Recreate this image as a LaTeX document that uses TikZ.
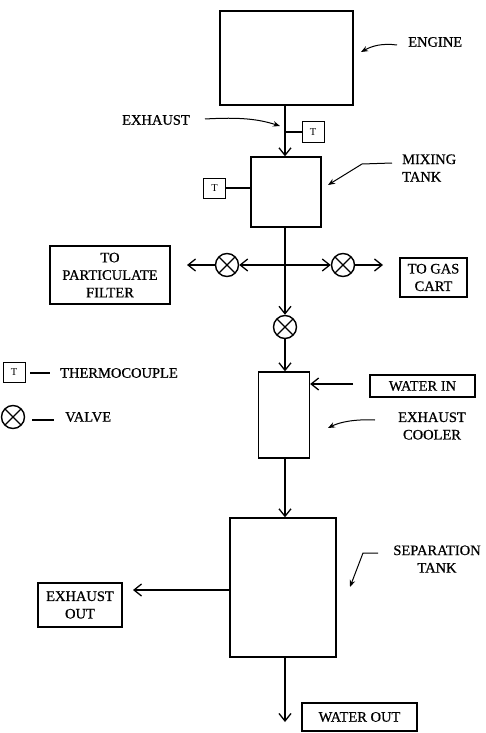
\documentclass[tikz,border=0pt]{standalone}
\usepackage{fontspec}
\setmainfont{Liberation Serif}[BoldFont=Liberation Serif, BoldFeatures={FakeBold=0.7}]
\usetikzlibrary{arrows.meta}
\begin{document}
\begin{tikzpicture}[x=1pt,y=-1pt,
  every node/.style={font=\fontsize{14.5}{17.5}\selectfont\bfseries, inner sep=0pt},
  unit/.style={draw, line width=1.3pt, fill=white},
  lbox/.style={draw, line width=1.3pt, align=center},
  tc/.style={draw, line width=1pt, minimum width=22pt, minimum height=20pt, font=\fontsize{10.5}{12}\selectfont},
  valve/.style={draw, circle, line width=1.4pt, minimum size=23pt,
    path picture={\draw[line width=1.4pt] (path picture bounding box.center) ++(45:11.5pt) -- ++(225:23pt);
                  \draw[line width=1.4pt] (path picture bounding box.center) ++(135:11.5pt) -- ++(-45:23pt);}},
  flow/.style={line width=1.3pt, -{Straight Barb[length=7.5pt,width=12pt,line width=1.3pt]}},
  pipe/.style={line width=1.3pt},
  pointer/.style={line width=1pt, -{Stealth[length=7pt,width=5.5pt]}},
  lbl/.style={align=center}
]
\useasboundingbox (0,0) rectangle (486,733);

% main units
\node[unit, minimum width=133pt, minimum height=94pt] (engine) at (286.5,58) {};
\node[unit, minimum width=70pt, minimum height=70pt] (mix) at (286,192) {};
\node[unit, minimum width=51pt, minimum height=86pt] (cooler) at (284,415) {};
\node[unit, minimum width=106pt, minimum height=139pt] (sep) at (283,587.5) {};

\coordinate (J) at (285,265);

% thermocouples
\node[tc] (t1) at (313,132) {T};
\node[tc] (t2) at (214.5,188) {T};

% valves
\node[valve] (v1) at (227,265) {};
\node[valve] (v2) at (343,265) {};
\node[valve] (v3) at (285,327) {};

% label boxes
\node[lbox, minimum width=120pt, minimum height=58pt] (filter) at (110,275) {TO\\PARTICULATE\\FILTER};
\node[lbox, minimum width=67pt, minimum height=39pt] (gascart) at (433.5,277.5) {TO GAS\\CART};
\node[lbox, minimum width=105pt, minimum height=22pt] (waterin) at (422.5,386) {WATER IN};
\node[lbox, minimum width=84pt, minimum height=44pt] (exout) at (80,605) {EXHAUST\\OUT};
\node[lbox, minimum width=115pt, minimum height=28pt] (waterout) at (359.5,717) {WATER OUT};

% text labels
\node[anchor=west] (lengine) at (408,42) {ENGINE};
\node[anchor=east] (lexhaust) at (190,120) {EXHAUST};
\node[anchor=west, align=left] (lmix) at (402,168) {MIXING\\TANK};
\node[lbl] (lcooler) at (432,426) {EXHAUST\\COOLER};
\node[lbl] (lsep) at (437,559) {SEPARATION\\TANK};

% legend
\node[tc] (legt) at (14,372.5) {T};
\coordinate (legtd1) at (30,373);
\coordinate (legtd2) at (50,373);
\draw[line width=1.1pt] (legtd1) -- (legtd2);
\node[anchor=west] (legtt) at (60,373) {THERMOCOUPLE};
\node[valve] (legv) at (13,417) {};
\coordinate (legvd1) at (32,420);
\coordinate (legvd2) at (54,420);
\draw[line width=1.1pt] (legvd1) -- (legvd2);
\node[anchor=west] (legvt) at (65,417) {VALVE};

% main flow
\draw[flow] (engine.south -| J) -- (mix.north -| J);
\draw[pipe] (t1.west) -- (t1.west -| J);
\draw[pipe] (t2.east) -- (t2.east -| mix.west);
\draw[pipe] (mix.south -| J) -- (J);
\draw[flow] (J) -- (v1.east);
\coordinate (fl) at (187,265);
\draw[flow] (v1.west) -- (fl);
\draw[flow] (J) -- (v2.west);
\coordinate (gc) at (383,265);
\draw[flow] (v2.east) -- (gc);
\draw[flow] (J) -- (v3.north);
\draw[flow] (v3.south) -- (cooler.north -| v3);
\coordinate (wi) at (353,384);
\draw[flow] (wi) -- (wi -| cooler.east);
\draw[flow] (cooler.south -| J) -- (sep.north -| J);
\coordinate (eo) at (133,590);
\draw[flow] (sep.west |- eo) -- (eo);
\coordinate (wo) at (285,722);
\draw[flow] (sep.south -| wo) -- (wo);

% pointers
\coordinate (pe1) at (397,45);
\coordinate (pe2) at (361,52);
\draw[pointer] (pe1) .. controls (382,43) and (372,46) .. (pe2);
\coordinate (px1) at (205,119);
\coordinate (px2) at (280,126);
\draw[pointer] (px1) .. controls (240,117) and (258,119) .. (px2);
\coordinate (pm1) at (392,163);
\coordinate (pm2) at (362,164);
\coordinate (pm3) at (328,185);
\draw[pointer] (pm1) -- (pm2) -- (pm3);
\coordinate (pc1) at (375,420);
\coordinate (pc2) at (328,428);
\draw[pointer] (pc1) .. controls (355,419) and (340,422) .. (pc2);
\coordinate (ps1) at (378,553);
\coordinate (ps2) at (363,553);
\coordinate (ps3) at (350,587);
\draw[pointer] (ps1) -- (ps2) -- (ps3);
\end{tikzpicture}
\end{document}
